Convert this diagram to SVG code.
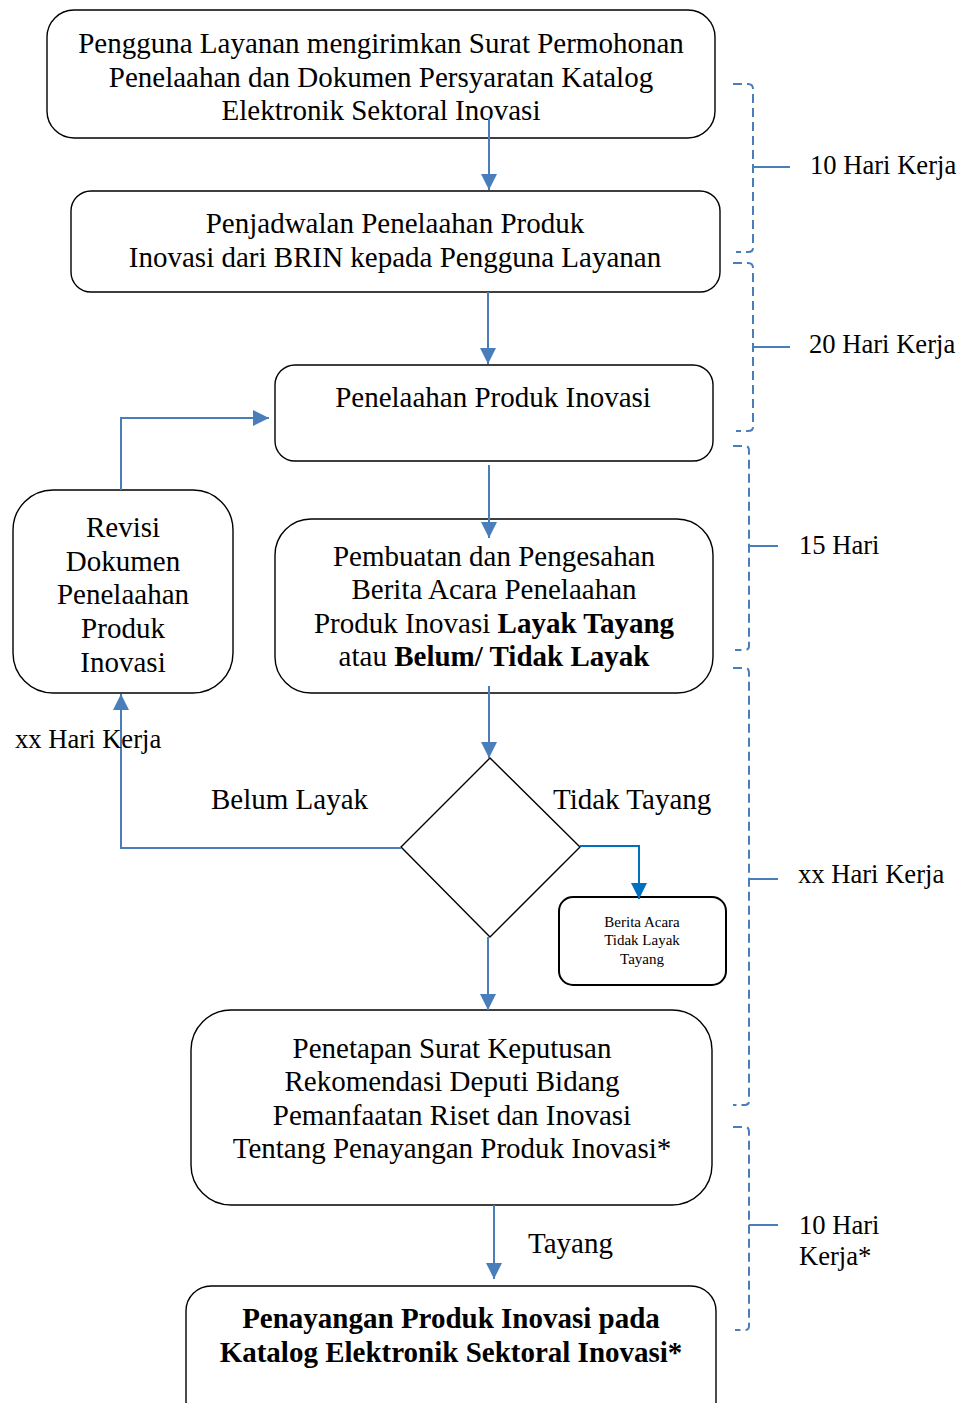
<svg xmlns="http://www.w3.org/2000/svg" width="968" height="1403" viewBox="0 0 968 1403">
<style>
.box{fill:#fff;stroke:#000;stroke-width:1.4}
.t{font-family:"Liberation Serif","Times New Roman",serif;font-size:29px;fill:#000;text-anchor:middle}
.lab{font-family:"Liberation Serif","Times New Roman",serif;font-size:29px;fill:#000}
.lab2{font-family:"Liberation Serif","Times New Roman",serif;font-size:26.6px;fill:#000}
.small{font-family:"Liberation Serif","Times New Roman",serif;font-size:15px;fill:#000;text-anchor:middle}
.b{font-weight:bold}
.con{fill:none;stroke:#4a7ebb;stroke-width:2}
.con2{fill:none;stroke:#0070c0;stroke-width:2}
.br{fill:none;stroke:#4a7ebb;stroke-width:2;stroke-dasharray:9 5}
.tick{fill:none;stroke:#4a7ebb;stroke-width:2}
</style>
<defs>
<marker id="ah" markerUnits="userSpaceOnUse" markerWidth="16" markerHeight="16" refX="16" refY="8" orient="auto">
<path d="M0,0 L16,8 L0,16 z" fill="#4a7ebb"/>
</marker>
<marker id="ah2" markerUnits="userSpaceOnUse" markerWidth="16" markerHeight="16" refX="16" refY="8" orient="auto">
<path d="M0,0 L16,8 L0,16 z" fill="#0070c0"/>
</marker>
</defs>

<g id="n1">
<rect class="box" x="47" y="10" width="668" height="128" rx="27"/>
<text class="t" x="381" y="53">Pengguna Layanan mengirimkan Surat Permohonan</text>
<text class="t" x="381" y="87">Penelaahan dan Dokumen Persyaratan Katalog</text>
<text class="t" x="381" y="120">Elektronik Sektoral Inovasi</text>
</g>
<g id="n2">
<rect class="box" x="71" y="191" width="649" height="101" rx="20"/>
<text class="t" x="395" y="233">Penjadwalan Penelaahan Produk</text>
<text class="t" x="395" y="267">Inovasi dari BRIN kepada Pengguna Layanan</text>
</g>
<g id="n3">
<rect class="box" x="275" y="365" width="438" height="96" rx="20"/>
<text class="t" x="493" y="407">Penelaahan Produk Inovasi</text>
</g>
<g id="n4">
<rect class="box" x="275" y="519" width="438" height="174" rx="36"/>
<text class="t" x="494" y="566">Pembuatan dan Pengesahan</text>
<text class="t" x="494" y="599">Berita Acara Penelaahan</text>
<text class="t" x="494" y="633">Produk Inovasi <tspan class="b">Layak Tayang</tspan></text>
<text class="t" x="494" y="666">atau <tspan class="b">Belum/ Tidak Layak</tspan></text>
</g>
<g id="n5">
<rect class="box" x="13" y="490" width="220" height="203" rx="40"/>
<text class="t" x="123" y="537">Revisi</text>
<text class="t" x="123" y="571">Dokumen</text>
<text class="t" x="123" y="604">Penelaahan</text>
<text class="t" x="123" y="638">Produk</text>
<text class="t" x="123" y="672">Inovasi</text>
</g>
<g id="n6">
<path class="box" d="M490,758 L580,847 L490,937 L401,847 Z"/>
</g>
<g id="n7">
<rect class="box" x="559" y="897" width="167" height="88" rx="14" style="stroke-width:2"/>
<text class="small" x="642" y="927">Berita Acara</text>
<text class="small" x="642" y="945">Tidak Layak</text>
<text class="small" x="642" y="964">Tayang</text>
</g>
<g id="n8">
<rect class="box" x="191" y="1010" width="521" height="195" rx="40"/>
<text class="t" x="452" y="1058">Penetapan Surat Keputusan</text>
<text class="t" x="452" y="1091">Rekomendasi Deputi Bidang</text>
<text class="t" x="452" y="1125">Pemanfaatan Riset dan Inovasi</text>
<text class="t" x="452" y="1158">Tentang Penayangan Produk Inovasi*</text>
</g>
<g id="n9">
<rect class="box" x="186" y="1286" width="530" height="140" rx="25"/>
<text class="t b" x="451" y="1328">Penayangan Produk Inovasi pada</text>
<text class="t b" x="451" y="1362">Katalog Elektronik Sektoral Inovasi*</text>
</g>

<g id="connectors">
<line class="con" x1="489" y1="118" x2="489" y2="190" marker-end="url(#ah)"/>
<line class="con" x1="488" y1="292" x2="488" y2="364" marker-end="url(#ah)"/>
<line class="con" x1="489" y1="465" x2="489" y2="538" marker-end="url(#ah)"/>
<line class="con" x1="489" y1="686" x2="489" y2="758" marker-end="url(#ah)"/>
<line class="con" x1="488" y1="937" x2="488" y2="1010" marker-end="url(#ah)"/>
<line class="con" x1="494" y1="1205" x2="494" y2="1279" marker-end="url(#ah)"/>
<polyline class="con" points="121,490 121,418 269,418" marker-end="url(#ah)"/>
<polyline class="con" points="401,848 121,848 121,694" marker-end="url(#ah)"/>
<polyline class="con2" points="580,846 639,846 639,899" marker-end="url(#ah2)"/>
</g>

<g id="labels">
<text class="lab" x="211" y="809">Belum Layak</text>
<text class="lab" x="553" y="809">Tidak Tayang</text>
<text class="lab2" x="15" y="748">xx Hari Kerja</text>
<text class="lab" x="528" y="1253">Tayang</text>
</g>

<g id="brackets">
<path class="br" d="M733,84 L748,84 Q753,84 753,89 L753,248 Q753,252 748,252 L736,252"/>
<line class="tick" x1="753" y1="167" x2="790" y2="167"/>
<text class="lab2" x="810" y="174">10 Hari Kerja</text>
<path class="br" d="M733,263 L748,263 Q753,263 753,268 L753,427 Q753,431 748,431 L736,431"/>
<line class="tick" x1="753" y1="347" x2="790" y2="347"/>
<text class="lab2" x="809" y="353">20 Hari Kerja</text>
<path class="br" d="M733,446 L745,446 Q749,446 749,451 L749,646 Q749,650 745,650 L735,650"/>
<line class="tick" x1="749" y1="546" x2="778" y2="546"/>
<text class="lab2" x="799" y="554">15 Hari</text>
<path class="br" d="M733,668 L745,668 Q749,668 749,673 L749,1101 Q749,1105 745,1105 L733,1105"/>
<line class="tick" x1="749" y1="879" x2="778" y2="879"/>
<text class="lab2" x="798" y="883">xx Hari Kerja</text>
<path class="br" d="M733,1127 L745,1127 Q749,1127 749,1132 L749,1326 Q749,1330 745,1330 L735,1330"/>
<line class="tick" x1="749" y1="1225" x2="778" y2="1225"/>
<text class="lab2" x="799" y="1234">10 Hari</text>
<text class="lab2" x="799" y="1265">Kerja*</text>
</g>
</svg>
